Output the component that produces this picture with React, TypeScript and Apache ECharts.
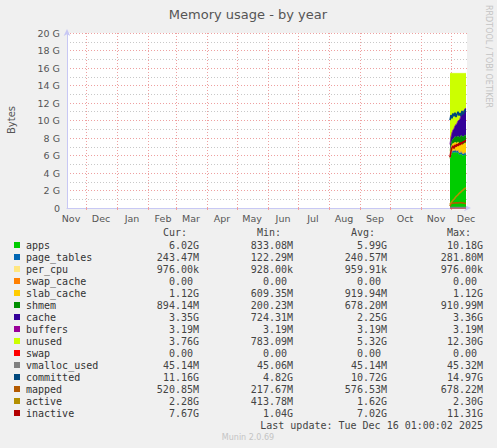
import React, { useEffect, useRef } from 'react';
import * as echarts from 'echarts';

// ---- data (values in GiB) ----
const dates = [
  '2025-11-30', '2025-12-01', '2025-12-02', '2025-12-03', '2025-12-04', '2025-12-05',
  '2025-12-06', '2025-12-07', '2025-12-08', '2025-12-09', '2025-12-10', '2025-12-11',
  '2025-12-12', '2025-12-13', '2025-12-14', '2025-12-15', '2025-12-16',
];
const apps = [5.62, 6.05, 6.28, 6.35, 6.30, 6.41, 6.33, 6.25, 6.38, 6.12, 6.05, 6.18, 6.09, 5.95, 6.02, 6.10, 6.02];
const pageTables = [0.12, 0.20, 0.23, 0.24, 0.25, 0.24, 0.26, 0.25, 0.24, 0.25, 0.27, 0.28, 0.25, 0.24, 0.25, 0.24, 0.24];
const perCpu = [0.00093, 0.00095, 0.00096, 0.00096, 0.00096, 0.00096, 0.00096, 0.00096, 0.00096, 0.00096, 0.00096, 0.00096, 0.00096, 0.00096, 0.00096, 0.00096, 0.00098];
const swapCache = [0, 0, 0, 0, 0, 0, 0, 0, 0, 0, 0, 0, 0, 0, 0, 0, 0];
const slabCache = [0.61, 0.68, 0.74, 0.80, 0.84, 0.88, 0.86, 0.92, 0.95, 1.01, 0.98, 1.04, 1.08, 1.06, 1.10, 1.11, 1.12];
const shmem = [0.20, 0.38, 0.46, 0.52, 0.58, 0.63, 0.66, 0.70, 0.69, 0.74, 0.78, 0.80, 0.83, 0.85, 0.88, 0.91, 0.89];
const cache = [0.72, 0.80, 0.90, 1.00, 1.10, 1.25, 1.40, 1.55, 1.70, 1.90, 2.10, 2.30, 2.50, 2.70, 2.85, 3.00, 3.10];
const buffers = [0.003, 0.003, 0.003, 0.003, 0.003, 0.003, 0.003, 0.003, 0.003, 0.003, 0.003, 0.003, 0.003, 0.003, 0.003, 0.003, 0.003];
const unused = [8.12, 7.28, 6.78, 6.48, 6.32, 5.98, 5.88, 5.72, 5.43, 5.37, 5.21, 4.79, 4.64, 4.59, 4.29, 4.03, 4.02];
const swap = [0, 0, 0, 0, 0, 0, 0, 0, 0, 0, 0, 0, 0, 0, 0, 0, 0];
const vmallocUsed = [0.045, 0.045, 0.045, 0.045, 0.045, 0.045, 0.045, 0.045, 0.045, 0.045, 0.045, 0.045, 0.045, 0.045, 0.045, 0.045, 0.045];
const committed = [10.05, 10.62, 10.25, 10.80, 10.48, 10.90, 10.40, 10.72, 11.00, 10.58, 10.85, 10.50, 11.10, 10.70, 10.95, 11.20, 11.16];
const mapped = [0.22, 0.50, 0.55, 0.56, 0.58, 0.57, 0.60, 0.59, 0.58, 0.60, 0.61, 0.60, 0.59, 0.58, 0.55, 0.53, 0.52];
const active = [0.41, 0.60, 0.75, 0.90, 1.00, 1.15, 1.30, 1.40, 1.50, 1.65, 1.75, 1.85, 1.95, 2.05, 2.15, 2.25, 2.28];
const inactive = [5.80, 6.50, 6.90, 7.10, 6.80, 7.20, 7.00, 7.30, 7.10, 7.40, 7.20, 7.50, 7.30, 7.60, 7.50, 7.70, 7.67];

// ---- axis ----
const axisStart = '2024-11-12';
const axisEnd = '2025-12-17';
const monthStarts = [
  '2024-12-01', '2025-01-01', '2025-02-01', '2025-03-01', '2025-04-01', '2025-05-01',
  '2025-06-01', '2025-07-01', '2025-08-01', '2025-09-01', '2025-10-01', '2025-11-01', '2025-12-01',
];
const monthLabelDates = [
  '2024-11-16', '2024-12-16', '2025-01-16', '2025-02-16', '2025-03-16', '2025-04-16', '2025-05-16',
  '2025-06-16', '2025-07-16', '2025-08-16', '2025-09-16', '2025-10-16', '2025-11-16', '2025-12-16',
];
const monthNames = ['Jan', 'Feb', 'Mar', 'Apr', 'May', 'Jun', 'Jul', 'Aug', 'Sep', 'Oct', 'Nov', 'Dec'];

// ---- legend ----
const legendNames = ['apps', 'page_tables', 'per_cpu', 'swap_cache', 'slab_cache', 'shmem', 'cache', 'buffers', 'unused', 'swap', 'vmalloc_used', 'committed', 'mapped', 'active', 'inactive'];
const legendColors = ['#00CC00', '#0066B3', '#FFE680', '#FF8000', '#FFCC00', '#008F00', '#330099', '#990099', '#CCFF00', '#FF0000', '#808080', '#00487D', '#B35A00', '#B38F00', '#B30000'];
const curValues = ['6.02G', '243.47M', '976.00k', '0.00', '1.12G', '894.14M', '3.35G', '3.19M', '3.76G', '0.00', '45.14M', '11.16G', '520.85M', '2.28G', '7.67G'];
const minValues = ['833.08M', '122.29M', '928.00k', '0.00', '609.35M', '200.23M', '724.31M', '3.19M', '783.09M', '0.00', '45.06M', '4.82G', '217.67M', '413.78M', '1.04G'];
const avgValues = ['5.99G', '240.57M', '959.91k', '0.00', '919.94M', '678.20M', '2.25G', '3.19M', '5.32G', '0.00', '45.14M', '10.72G', '576.53M', '1.62G', '7.02G'];
const maxValues = ['10.18G', '281.80M', '976.00k', '0.00', '1.12G', '910.99M', '3.36G', '3.19M', '12.30G', '0.00', '45.32M', '14.97G', '678.22M', '2.30G', '11.31G'];
const columnHeaders = ['Cur:', 'Min:', 'Avg:', 'Max:'];
const lastUpdate = 'Last update: Tue Dec 16 01:00:02 2025';

const DAY = 86400000;
const ts = (s: string) => Date.parse(s + 'T00:00:00Z');
const dayOf = (s: string) => (ts(s) - ts(axisStart)) / DAY;

export default function App() {
  const ref = useRef<HTMLDivElement>(null);
  useEffect(() => {
    if (!ref.current) return;
    const chart = echarts.init(ref.current, null, { renderer: 'svg' });

    const areaSeries = [
      { name: 'apps', data: apps, color: legendColors[0] },
      { name: 'page_tables', data: pageTables, color: legendColors[1] },
      { name: 'per_cpu', data: perCpu, color: legendColors[2] },
      { name: 'swap_cache', data: swapCache, color: legendColors[3] },
      { name: 'slab_cache', data: slabCache, color: legendColors[4] },
      { name: 'shmem', data: shmem, color: legendColors[5] },
      { name: 'cache', data: cache, color: legendColors[6] },
      { name: 'buffers', data: buffers, color: legendColors[7] },
      { name: 'unused', data: unused, color: legendColors[8] },
    ].map((s) => ({
      name: s.name,
      type: 'line',
      xAxisIndex: 1,
      stack: 'mem',
      symbol: 'none',
      lineStyle: { width: 0.5, color: s.color },
      areaStyle: { color: s.color, opacity: 1 },
      itemStyle: { color: s.color },
      data: dates.map((d, i) => [ts(d), s.data[i]]),
      z: 2,
    }));

    const lineSeries = [
      { name: 'swap', data: swap, color: legendColors[9] },
      { name: 'vmalloc_used', data: vmallocUsed, color: legendColors[10] },
      { name: 'committed', data: committed, color: legendColors[11] },
      { name: 'mapped', data: mapped, color: legendColors[12] },
      { name: 'active', data: active, color: legendColors[13] },
      { name: 'inactive', data: inactive, color: legendColors[14] },
    ].map((s) => ({
      name: s.name,
      type: 'line',
      xAxisIndex: 1,
      symbol: 'none',
      lineStyle: { width: 1.6, color: s.color },
      itemStyle: { color: s.color },
      data: dates.map((d, i) => [ts(d), s.data[i]]),
      z: 3,
    }));

    const mono = 'DejaVu Sans Mono';
    const sans = 'DejaVu Sans';
    const rowY0 = 245;
    const rowH = 12;
    const colRights = [199, 293, 387, 483];
    const charW = 6.02;
    const valueCols = [curValues, minValues, avgValues, maxValues];

    const graphics: any[] = [
      {
        type: 'text', x: 248, y: 14,
        style: { text: 'Memory usage - by year', fontFamily: sans, fontSize: 13, fill: '#555', align: 'center', verticalAlign: 'middle' },
      },
      {
        type: 'text', x: 11, y: 120, rotation: Math.PI / 2,
        style: { text: 'Bytes', fontFamily: sans, fontSize: 10, fill: '#555', align: 'center', verticalAlign: 'middle' },
      },
      {
        type: 'text', x: 488, y: 5, rotation: -Math.PI / 2,
        style: { text: 'RRDTOOL / TOBI OETIKER', fontFamily: sans, fontSize: 8, fill: '#c4c4c4', align: 'left', verticalAlign: 'middle' },
      },
      {
        type: 'text', x: 248, y: 437,
        style: { text: 'Munin 2.0.69', fontFamily: sans, fontSize: 8, fill: '#c4c4c4', align: 'center', verticalAlign: 'middle' },
      },
      {
        type: 'text', x: 483, y: 425,
        style: { text: lastUpdate, fontFamily: mono, fontSize: 10, fill: '#444', align: 'right', verticalAlign: 'middle' },
      },
    ];
    columnHeaders.forEach((h, c) => {
      graphics.push({
        type: 'text', x: colRights[c] - 12, y: 232,
        style: { text: h, fontFamily: mono, fontSize: 10, fill: '#444', align: 'right', verticalAlign: 'middle' },
      });
    });
    legendNames.forEach((name, i) => {
      const y = rowY0 + i * rowH;
      graphics.push({
        type: 'rect', shape: { x: 14, y: y - 3, width: 6, height: 6 },
        style: { fill: legendColors[i] },
      });
      graphics.push({
        type: 'text', x: 26, y,
        style: { text: name, fontFamily: mono, fontSize: 10, fill: '#333', align: 'left', verticalAlign: 'middle' },
      });
      valueCols.forEach((col, c) => {
        const v = col[i];
        const hasUnit = /[a-zA-Z]$/.test(v);
        graphics.push({
          type: 'text', x: colRights[c] - (hasUnit ? 0 : charW), y,
          style: { text: v, fontFamily: mono, fontSize: 10, fill: '#444', align: 'right', verticalAlign: 'middle' },
        });
      });
    });

    chart.setOption({
      animation: false,
      backgroundColor: '#f0f0f0',
      grid: {
        left: 67, right: 30, top: 33, bottom: 240,
        show: true, backgroundColor: '#ffffff', borderWidth: 0,
      },
      xAxis: [
        {
          type: 'value',
          min: 0,
          max: dayOf(axisEnd),
          axisLine: {
            show: true,
            onZero: false,
            lineStyle: { color: '#c8c8f4', width: 1 },
            symbol: ['none', 'arrow'], symbolSize: [5, 7], symbolOffset: [0, 4],
          },
          axisTick: {
            show: true, length: 2, lineStyle: { color: '#f0a0a0' },
            customValues: monthStarts.map(dayOf),
          },
          axisLabel: {
            customValues: monthLabelDates.map(dayOf),
            formatter: (v: number) => monthNames[new Date(ts(axisStart) + v * DAY).getUTCMonth()],
            fontFamily: sans, fontSize: 9.5, color: '#555', margin: 5,
            hideOverlap: false,
          },
          splitLine: {
            show: true,
            lineStyle: { color: '#eea0a0', type: [1, 2], width: 1 },
          },
        },
        {
          type: 'time',
          min: ts(axisStart),
          max: ts(axisEnd),
          show: false,
        },
      ],
      yAxis: {
        type: 'value',
        min: 0, max: 20, interval: 2,
        axisLine: {
          show: true,
          lineStyle: { color: '#c8c8f4', width: 1 },
          symbol: ['none', 'arrow'], symbolSize: [5, 7], symbolOffset: [0, 4],
        },
        axisTick: { show: false },
        axisLabel: {
          formatter: (v: number) => (v === 0 ? '0' : v + ' G'),
          fontFamily: sans, fontSize: 9.5, color: '#555', margin: 7,
        },
        splitLine: { show: true, lineStyle: { color: '#eea0a0', type: [1, 2], width: 1 } },
        minorTick: { show: false, splitNumber: 2 },
        minorSplitLine: { show: true, lineStyle: { color: '#c8c8c8', type: [1, 2], width: 1 } },
      },
      series: [...areaSeries, ...lineSeries],
      graphic: graphics,
    });
    return () => chart.dispose();
  }, []);
  return <div ref={ref} style={{ position: 'absolute', left: 0, top: 0, width: 497, height: 448 }} />;
}
